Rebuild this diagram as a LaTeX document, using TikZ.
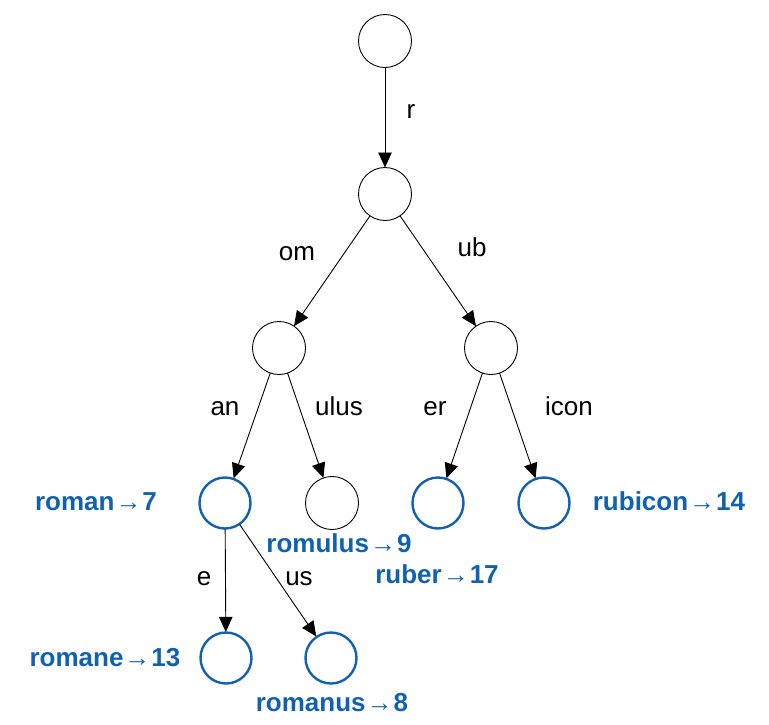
\documentclass[tikz,border=0pt]{standalone}
\usepackage{fontspec}
\setmainfont{Liberation Sans}
\usetikzlibrary{arrows.meta}
\definecolor{wblue}{RGB}{16,98,176}
\newcommand{\rarr}{{\mdseries\kern1pt→\kern1pt}}
\tikzset{
  plain/.style={circle,draw=black,line width=0.9pt,minimum size=53pt,inner sep=0pt,outer sep=0pt},
  word/.style={circle,draw=wblue,line width=2.4pt,minimum size=51pt,inner sep=0pt,outer sep=0.6pt},
  edge/.style={draw=black,line width=0.9pt,-{Triangle[length=15pt,width=13.5pt]}},
  elab/.style={font=\fontsize{26}{26}\selectfont,inner sep=0pt,anchor=base},
  wlab/.style={font=\fontsize{26}{26}\selectfont\bfseries,text=wblue,inner sep=0pt,anchor=base}
}
\begin{document}
\begin{tikzpicture}[x=1pt,y=-1pt]
\useasboundingbox (0,0) rectangle (769,724);
\node[plain] (root) at (385,41) {};
\node[plain] (n1) at (385,194) {};
\node[plain] (om) at (279,348) {};
\node[plain] (ub) at (491,348) {};
\node[word] (roman) at (225,503) {};
\node[plain] (romulus) at (332,503) {};
\node[word] (ruber) at (438,503) {};
\node[word] (rubicon) at (544,503) {};
\node[word] (romane) at (226,658) {};
\node[word] (romanus) at (331,658) {};
\draw[edge] (root) -- (n1);
\draw[edge] (n1) -- (om);
\draw[edge] (n1) -- (ub);
\draw[edge] (om) -- (roman);
\draw[edge] (om) -- (romulus);
\draw[edge] (ub) -- (ruber);
\draw[edge] (ub) -- (rubicon);
\draw[edge] (roman) -- (romane);
\draw[edge] (roman) -- (romanus);
\node[elab] (lr) at (411,118) {r};
\node[elab] (lom) at (297,260) {om};
\node[elab] (lub) at (472,256) {ub};
\node[elab] (lan) at (225,415) {an};
\node[elab] (lulus) at (339,415) {ulus};
\node[elab] (ler) at (435,415) {er};
\node[elab] (licon) at (569,415) {icon};
\node[elab] (le) at (204,585) {e};
\node[elab] (lus) at (299,585) {us};
\node[wlab] (wroman) at (96,510) {roman\rarr7};
\node[wlab] (wromulus) at (339,552) {romulus\rarr9};
\node[wlab] (wruber) at (437,583) {ruber\rarr17};
\node[wlab] (wrubicon) at (669,510) {rubicon\rarr14};
\node[wlab] (wromane) at (105,666) {romane\rarr13};
\node[wlab] (wromanus) at (332,711) {romanus\rarr8};
\end{tikzpicture}
\end{document}
